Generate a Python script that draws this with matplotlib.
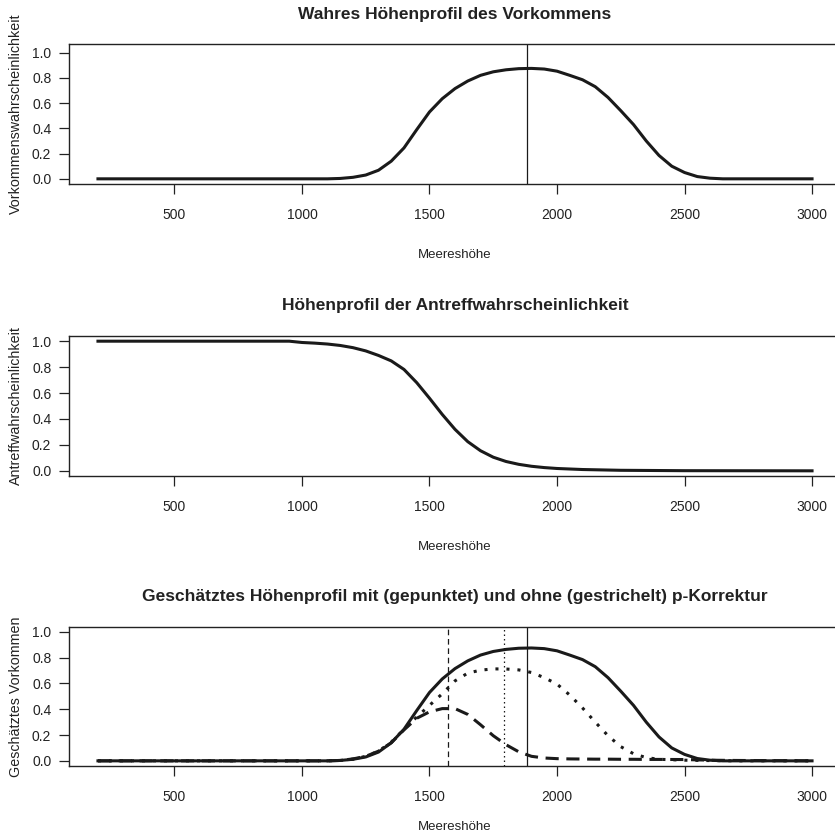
import matplotlib
matplotlib.use("Agg")
import matplotlib.pyplot as plt

plt.rcParams["font.family"] = ["Liberation Sans", "DejaVu Sans"]

# true occurrence profile along elevation
elev_occ = [200, 1100, 1150, 1200, 1250, 1300, 1350, 1400, 1450, 1500, 1550, 1600, 1650,
            1700, 1750, 1800, 1850, 1900, 1950, 2000, 2050, 2100, 2150, 2200, 2250,
            2300, 2350, 2400, 2450, 2500, 2550, 2600, 2650, 3000]
occ_true = [0.0, 0.0, 0.003, 0.012, 0.03, 0.068, 0.14, 0.245, 0.39, 0.53, 0.635, 0.715, 0.775,
            0.82, 0.848, 0.864, 0.873, 0.875, 0.87, 0.853, 0.82, 0.785, 0.73, 0.645, 0.54,
            0.43, 0.3, 0.185, 0.1, 0.05, 0.018, 0.005, 0.0, 0.0]
peak_true = 1882

# detection probability along elevation
elev_det = [200, 950, 1000, 1050, 1100, 1150, 1200, 1250, 1300, 1350, 1400, 1450, 1500,
            1550, 1600, 1650, 1700, 1750, 1800, 1850, 1900, 1950, 2000, 2100, 2250, 2500, 3000]
det_prob = [1.0, 1.0, 0.99, 0.985, 0.978, 0.967, 0.95, 0.925, 0.89, 0.848, 0.782, 0.68, 0.56,
            0.435, 0.32, 0.225, 0.155, 0.105, 0.072, 0.05, 0.035, 0.025, 0.018, 0.01, 0.004, 0.001, 0.0]

# estimated profiles
elev_est = [200, 1100, 1150, 1200, 1250, 1300, 1350, 1400, 1450, 1500, 1550, 1600, 1650,
            1700, 1750, 1800, 1850, 1900, 1950, 2000, 2050, 2100, 2150, 2200, 2250,
            2300, 2350, 2400, 2500, 2600, 2700, 3000]
est_corr = [0.0, 0.0, 0.003, 0.013, 0.035, 0.075, 0.145, 0.245, 0.34, 0.43, 0.52, 0.62, 0.68,
            0.703, 0.713, 0.712, 0.705, 0.685, 0.645, 0.595, 0.51, 0.41, 0.3, 0.195, 0.11,
            0.055, 0.025, 0.012, 0.005, 0.002, 0.0, 0.0]
est_raw = [0.0, 0.0, 0.003, 0.015, 0.035, 0.075, 0.14, 0.24, 0.33, 0.38, 0.405, 0.405, 0.36,
           0.28, 0.195, 0.125, 0.07, 0.035, 0.022, 0.017, 0.015, 0.014, 0.013, 0.013, 0.012,
           0.012, 0.011, 0.011, 0.01, 0.005, 0.003, 0.0]
peak_corr = 1792
peak_raw = 1574

xticks = [500, 1000, 1500, 2000, 2500, 3000]
yticks = [0.0, 0.2, 0.4, 0.6, 0.8, 1.0]

W, H = 835, 834
fig = plt.figure(figsize=(W / 100, H / 100), dpi=100)

left, width = 69.4 / W, 771.2 / W
panels = [(44.3, 184.0), (336.0, 476.0), (626.7, 766.0)]
xlab_gap = [65, 65, 55]
ylims = [(-0.041, 1.066), (-0.04, 1.04), (-0.04, 1.04)]
titles = ["Wahres Höhenprofil des Vorkommens",
          "Höhenprofil der Antreffwahrscheinlichkeit",
          "Geschätztes Höhenprofil mit (gepunktet) und ohne (gestrichelt) p-Korrektur"]
ylabels = ["Vorkommenswahrscheinlichkeit", "Antreffwahrscheinlichkeit", "Geschätztes Vorkommen"]

ink = "#222222"
axes = []
for (top, bottom), gap, ylim, title, ylab in zip(panels, xlab_gap, ylims, titles, ylabels):
    ax = fig.add_axes([left, (H - bottom) / H, width, (bottom - top) / H])
    ax.set_xlim(88, 3112)
    ax.set_ylim(*ylim)
    ax.set_xticks(xticks)
    ax.set_xticklabels([str(t) for t in xticks])
    ax.set_yticks(yticks)
    ax.set_yticklabels([f"{t:.1f}" for t in yticks])
    ax.tick_params(direction="out", length=7, width=0.9, labelsize=10, pad=6, colors=ink)
    ax.tick_params(axis="x", pad=10)
    for s in ax.spines.values():
        s.set_linewidth(1.0)
        s.set_color(ink)
    ax.spines["right"].set_visible(False)
    ax.set_title(title, fontsize=12.5, fontweight="bold", pad=18.5, color=ink)
    ax.set_xlabel("Meereshöhe", fontsize=9.5, color=ink)
    ax.xaxis.set_label_coords(0.5, -gap / (bottom - top))
    ax.set_ylabel(ylab, fontsize=10.3, color=ink)
    ax.yaxis.set_label_coords(-46.5 / 771.2, 0.5)
    axes.append(ax)

lw = 2.2
line = "#1a1a1a"
ax1, ax2, ax3 = axes
ax1.plot(elev_occ, occ_true, color=line, lw=lw)
ax1.axvline(peak_true, color=line, lw=0.9)

ax2.plot(elev_det, det_prob, color=line, lw=lw)

ax3.plot(elev_occ, occ_true, color=line, lw=lw)
ax3.plot(elev_est, est_corr, color=line, lw=lw, linestyle=(0, (1.0, 2.6)))
ax3.plot(elev_est, est_raw, color=line, lw=lw, linestyle=(0, (4.3, 2.5)))
ax3.axvline(peak_true, color=line, lw=0.9)
ax3.axvline(peak_corr, color=line, lw=0.9, linestyle=(0, (1.2, 2.4)))
ax3.axvline(peak_raw, color=line, lw=0.9, linestyle=(0, (4.5, 3.0)))

fig.savefig("out.png", dpi=100)
